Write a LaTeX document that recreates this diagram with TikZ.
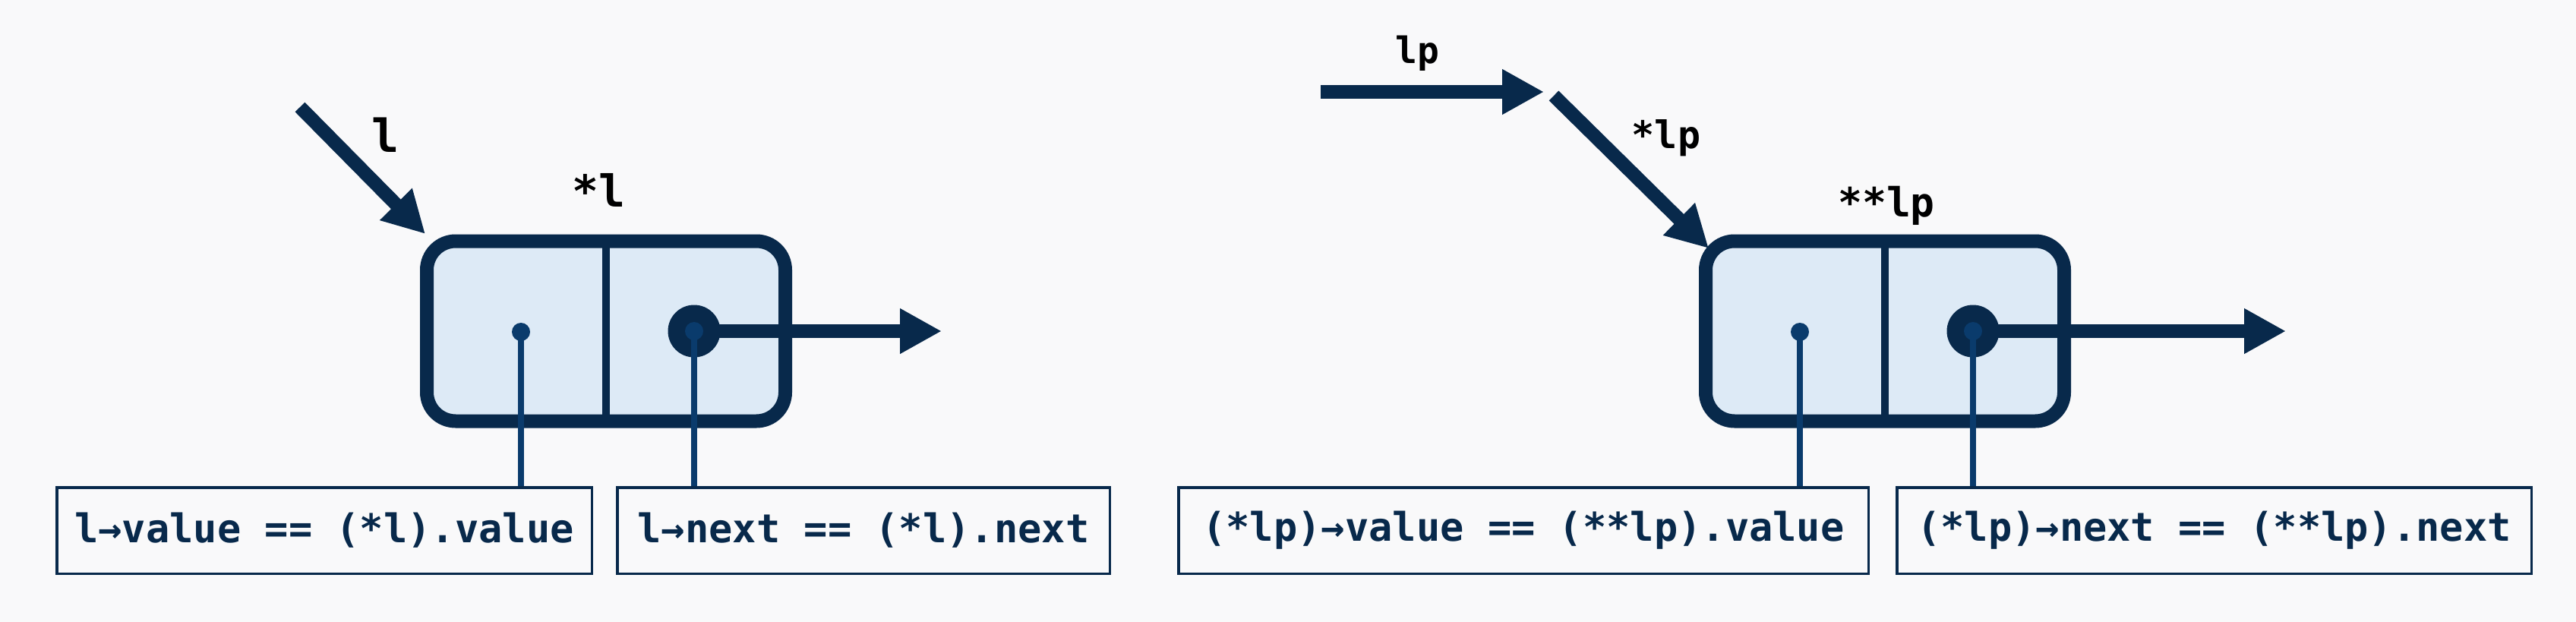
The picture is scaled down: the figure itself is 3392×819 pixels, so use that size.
\documentclass[tikz,border=0pt]{standalone}
\usepackage{fontspec}
\setmonofont{DejaVu Sans Mono}
\usetikzlibrary{arrows.meta}
\definecolor{navy}{HTML}{08294B}
\definecolor{cellfill}{HTML}{DDEAF6}
\definecolor{stemblue}{HTML}{0A3B6C}
\definecolor{bgc}{HTML}{F9F9FA}
\tikzset{
  cell/.style={draw=navy, fill=cellfill, line width=18pt, rounded corners=38pt,
    minimum width=472pt, minimum height=237pt, inner sep=0pt, outer sep=0pt},
  bigdot/.style={circle, fill=navy, minimum size=69pt, inner sep=0pt},
  smalldot/.style={circle, fill=stemblue, minimum size=24pt, inner sep=0pt},
  ptr/.style={draw=navy, line width=18pt, -{Triangle[length=55pt,width=56pt]}},
  stem/.style={draw=stemblue, line width=8pt},
  divider/.style={draw=navy, line width=10pt},
  lbl/.style={text=black, anchor=base, inner sep=0pt},
  codebox/.style={draw=navy, line width=3.5pt, minimum height=113.5pt, inner sep=0pt,
    text=navy, font=\ttfamily\bfseries\fontsize{52}{60}\selectfont},
}
\begin{document}
\begin{tikzpicture}[x=1pt,y=-1pt]
\fill[bgc] (0,0) rectangle (3392,819);
\useasboundingbox (0,0) rectangle (3392,819);

% ---------- left: l ----------
\node[cell] (n1) at (798,436) {};
\draw[divider] (n1.north) -- (n1.south);
\node[bigdot] (d1) at (914,436) {};
\coordinate (e1) at (1240,436);
\draw[ptr] (d1.center) -- (e1);
\node[smalldot] (v1) at (686,437) {};
\node[smalldot] (p1) at (914,436) {};

\node[codebox, minimum width=704.5pt] (b1) at (427,698.5) {l→value == (*l).value};
\node[codebox, minimum width=648.5pt] (b2) at (1137,698.5) {l→next == (*l).next};
\draw[stem] (v1.center) -- (v1.center |- b1.north);
\draw[stem] (p1.center) -- (p1.center |- b2.north);

\coordinate (ls) at (395,141);
\coordinate (lt) at (560,308);
\draw[ptr] (ls) -- (lt);
\node[lbl, font=\ttfamily\bfseries\fontsize{60}{70}\selectfont] (ll) at (508,200) {l};
\node[lbl, font=\ttfamily\bfseries\fontsize{58}{68}\selectfont] (sl) at (788,272) {*l};

% ---------- right: lp ----------
\node[cell] (n2) at (2482,436) {};
\draw[divider] (n2.north) -- (n2.south);
\node[bigdot] (d2) at (2598,436) {};
\coordinate (e2) at (3010,436);
\draw[ptr] (d2.center) -- (e2);
\node[smalldot] (v2) at (2370,437) {};
\node[smalldot] (p2) at (2598,436) {};

\node[codebox, minimum width=908.5pt] (b3) at (2006,698.5) {(*lp)→value == (**lp).value};
\node[codebox, minimum width=835.5pt] (b4) at (2915.5,698.5) {(*lp)→next == (**lp).next};
\draw[stem] (v2.center) -- (v2.center |- b3.north);
\draw[stem] (p2.center) -- (p2.center |- b4.north);

\coordinate (lps) at (1739,121);
\coordinate (lpt) at (2033,121);
\draw[ptr] (lps) -- (lpt);
\coordinate (sls) at (2046,126);
\coordinate (slt) at (2250,327);
\draw[ptr] (sls) -- (slt);
\node[lbl, font=\ttfamily\bfseries\fontsize{48}{56}\selectfont] (llp) at (1866,83) {lp};
\node[lbl, font=\ttfamily\bfseries\fontsize{50}{58}\selectfont] (slp) at (2194,195) {*lp};
\node[lbl, font=\ttfamily\bfseries\fontsize{53}{62}\selectfont] (sslp) at (2484,285) {**lp};
\end{tikzpicture}
\end{document}
